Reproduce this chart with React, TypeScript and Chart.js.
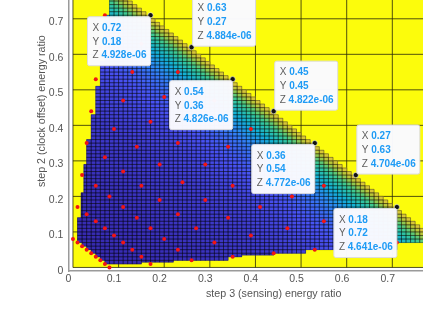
import React, { useEffect, useRef } from "react";
import { Chart, registerables } from "chart.js";

Chart.register(...registerables);

const xTicks = [0, 0.1, 0.2, 0.3, 0.4, 0.5, 0.6, 0.7];
const yTicks = [0, 0.1, 0.2, 0.3, 0.4, 0.5, 0.6, 0.7];
const xTitle = "step 3 (sensing) energy ratio";
const yTitle = "step 2 (clock offset) energy ratio";

// Sampled design points
const redX = [0.09, 0.01, 0.02, 0.03, 0.04, 0.05, 0.06, 0.07, 0.08, 0.1, 0.12, 0.08, 0.06, 0.04, 0.02, 0.14, 0.16, 0.18,
  0.03, 0.06, 0.09, 0.12, 0.15, 0.18, 0.21, 0.24, 0.27, 0.08, 0.12, 0.16, 0.2, 0.24, 0.28, 0.32, 0.36, 0.04,
  0.05, 0.1, 0.15, 0.2, 0.25, 0.3, 0.35, 0.4, 0.45, 0.06, 0.12, 0.18, 0.24, 0.3, 0.36, 0.42, 0.48, 0.54,
  0.07, 0.14, 0.21, 0.28, 0.35, 0.42, 0.49, 0.56, 0.63, 0.08, 0.16, 0.24, 0.32, 0.4, 0.48, 0.56, 0.64, 0.72];
const redY = [0.01, 0.09, 0.08, 0.07, 0.06, 0.05, 0.04, 0.03, 0.02, 0.1, 0.08, 0.12, 0.14, 0.16, 0.18, 0.06, 0.04, 0.02,
  0.27, 0.24, 0.21, 0.18, 0.15, 0.12, 0.09, 0.06, 0.03, 0.32, 0.28, 0.24, 0.2, 0.16, 0.12, 0.08, 0.04, 0.36,
  0.45, 0.4, 0.35, 0.3, 0.25, 0.2, 0.15, 0.1, 0.05, 0.54, 0.48, 0.42, 0.36, 0.3, 0.24, 0.18, 0.12, 0.06,
  0.63, 0.56, 0.49, 0.42, 0.35, 0.28, 0.21, 0.14, 0.07, 0.72, 0.64, 0.56, 0.48, 0.4, 0.32, 0.24, 0.16, 0.08];

// Data tips
const tipPointX = [0.18, 0.27, 0.36, 0.45, 0.54, 0.63, 0.72];
const tipPointY = [0.72, 0.63, 0.54, 0.45, 0.36, 0.27, 0.18];
const tipLabelX = ["0.72", "0.63", "0.54", "0.45", "0.36", "0.27", "0.18"];
const tipLabelY = ["0.18", "0.27", "0.36", "0.45", "0.54", "0.63", "0.72"];
const tipLabelZ = ["4.928e-06", "4.884e-06", "4.826e-06", "4.822e-06", "4.772e-06", "4.704e-06", "4.641e-06"];

// Outline of the feasible surface
const leftFromY = [0.72, 0.59, 0.52, 0.44, 0.37, 0.3, 0.22, 0.15, 0.08, 0.07, 0.06, 0.05, 0.04, 0.03, 0.02];
const leftEdgeX = [0.09, 0.08, 0.07, 0.06, 0.05, 0.04, 0.034, 0.028, 0.02, 0.03, 0.04, 0.05, 0.06, 0.07, 0.08];
const bottomUntilX = [0.155, 0.227, 0.35, 0.375, 0.45, 0.52, 0.72, 0.9];
const bottomEdgeY = [0.02, 0.025, 0.03, 0.04, 0.045, 0.05, 0.06, 0.08];
const diagonalLimit = 90;

// Surface height (as a colormap position) read along x + y
const sumLevels = [0.1, 0.3, 0.5, 0.6, 0.66, 0.7, 0.74, 0.77, 0.8, 0.83, 0.86, 0.88, 0.9];
const zLevels = [0.0, 0.02, 0.06, 0.1, 0.14, 0.18, 0.24, 0.31, 0.4, 0.5, 0.62, 0.74, 0.84];
const parula = [[54, 42, 176], [72, 82, 244], [46, 135, 247], [18, 177, 214], [55, 200, 151], [171, 199, 57], [254, 195, 56], [249, 251, 21]];

function lookupZ(sum: number) {
  for (let k = 1; k < sumLevels.length; k++) {
    if (sum <= sumLevels[k]) {
      const t = (sum - sumLevels[k - 1]) / (sumLevels[k] - sumLevels[k - 1]);
      return zLevels[k - 1] + Math.max(0, t) * (zLevels[k] - zLevels[k - 1]);
    }
  }
  return zLevels[zLevels.length - 1];
}
function colorFor(z: number) {
  const p = Math.min(0.9999, z) * (parula.length - 1);
  const i = Math.floor(p);
  const t = p - i;
  const c = parula[i].map((v, n) => Math.round(v + t * (parula[i + 1][n] - v)));
  return `rgb(${c[0]},${c[1]},${c[2]})`;
}

function buildCells() {
  const cells: any[] = [];
  for (let j = 1; j < diagonalLimit; j++) {
    const y = j / 100;
    const li = leftFromY.findIndex((v) => y >= v - 1e-9);
    if (li < 0) continue;
    const left = leftEdgeX[li];
    for (let i = 1; i + j + 2 <= diagonalLimit; i++) {
      const x = i / 100;
      if (x + 0.01 <= left + 1e-9) continue;
      const bi = bottomUntilX.findIndex((v) => x < v - 1e-9);
      const bottom = bi < 0 ? bottomEdgeY[bottomEdgeY.length - 1] : bottomEdgeY[bi];
      if (y + 0.01 <= bottom + 1e-9) continue;
      cells.push({ x, y, z: lookupZ(x + y + 0.01), l: Math.max(x, left), b: Math.max(y, bottom) });
    }
  }
  return cells;
}

const surfacePlugin = {
  id: "surface",
  beforeDatasetsDraw(chart: any) {
    const { ctx, scales, chartArea } = chart;
    const sx = scales.x;
    const sy = scales.y;
    const X = (v: number) => sx.getPixelForValue(v);
    const Y = (v: number) => sy.getPixelForValue(v);
    ctx.save();
    ctx.beginPath();
    ctx.rect(chartArea.left, chartArea.top, chartArea.right - chartArea.left, chartArea.bottom - chartArea.top);
    ctx.clip();
    ctx.fillStyle = "#fcfc0c";
    ctx.fillRect(X(0.01), chartArea.top, chartArea.right - X(0.01), Y(0.01) - chartArea.top);
    ctx.strokeStyle = "rgba(40,40,10,0.8)";
    ctx.lineWidth = 1;
    for (let k = 0; k <= 9; k++) {
      const v = 0.01 + k / 10;
      ctx.beginPath();
      ctx.moveTo(X(v), chartArea.top);
      ctx.lineTo(X(v), Y(0.01));
      ctx.moveTo(X(0.01), Y(v));
      ctx.lineTo(chartArea.right, Y(v));
      ctx.stroke();
    }
    const cells = chart.data.datasets[0].data;
    for (const c of cells) {
      const l = X(c.l), r = X(c.x + 0.01), t = Y(c.y + 0.01), b = Y(c.b);
      ctx.fillStyle = colorFor(c.z);
      ctx.fillRect(l - 0.3, t - 0.3, r - l + 0.6, b - t + 0.6);
    }
    ctx.strokeStyle = "rgba(0,0,0,0.42)";
    ctx.lineWidth = 0.8;
    ctx.beginPath();
    for (const c of cells) {
      const l = X(c.l), r = X(c.x + 0.01), t = Y(c.y + 0.01), b = Y(c.b);
      ctx.moveTo(l, b);
      ctx.lineTo(l, t);
      ctx.lineTo(r, t);
      ctx.moveTo(r, t);
      ctx.lineTo(r, b);
      ctx.moveTo(l, b);
      ctx.lineTo(r, b);
    }
    ctx.stroke();
    ctx.restore();
  },
};

const tipsPlugin = {
  id: "tips",
  afterDatasetsDraw(chart: any) {
    const { ctx, scales } = chart;
    const w = 63, h = 49, radius = 2;
    ctx.save();
    ctx.textBaseline = "middle";
    ctx.textAlign = "left";
    tipPointX.forEach((px, i) => {
      const ax = scales.x.getPixelForValue(px);
      const ay = scales.y.getPixelForValue(tipPointY[i]);
      const bx = i % 2 === 0 ? ax - w : ax + 1;
      const by = i % 2 === 0 ? ay + 1.5 : ay - h - 1;
      ctx.beginPath();
      ctx.roundRect(bx, by, w, h, radius);
      ctx.fillStyle = "rgba(250,250,255,0.98)";
      ctx.fill();
      ctx.strokeStyle = "#dcdce0";
      ctx.lineWidth = 1;
      ctx.stroke();
      const rows = [["X", tipLabelX[i]], ["Y", tipLabelY[i]], ["Z", tipLabelZ[i]]];
      rows.forEach((row, n) => {
        const ty = by + 11.5 + n * 13.6;
        ctx.font = "10px 'Liberation Sans'";
        ctx.fillStyle = "#5e5e5e";
        ctx.fillText(row[0], bx + 5, ty);
        const lw = ctx.measureText(row[0] + " ").width;
        ctx.font = "bold 10px 'Liberation Sans'";
        ctx.fillStyle = "#1e9bf5";
        ctx.fillText(row[1], bx + 5 + lw, ty);
      });
    });
    ctx.restore();
  },
};

export default function App() {
  const ref = useRef<HTMLCanvasElement | null>(null);
  useEffect(() => {
    document.body.style.margin = "0";
    const chart = new Chart(ref.current as HTMLCanvasElement, {
      type: "scatter",
      data: {
        datasets: [
          { label: "surface", data: buildCells(), pointRadius: 0, pointHoverRadius: 0, showLine: false },
          {
            label: "samples",
            data: redX.map((x, i) => ({ x, y: redY[i] })),
            pointRadius: 2,
            pointBackgroundColor: "#f01414",
            pointBorderWidth: 0,
            showLine: false,
          },
          {
            label: "tips",
            data: tipPointX.map((x, i) => ({ x, y: tipPointY[i] })),
            pointRadius: 2.6,
            pointBackgroundColor: "#111111",
            pointBorderColor: "rgba(255,255,255,0.55)",
            pointBorderWidth: 1,
            showLine: false,
          },
        ],
      },
      options: {
        responsive: false,
        animation: false,
        layout: { padding: 0 },
        plugins: { legend: { display: false }, tooltip: { enabled: false }, title: { display: false } },
        scales: {
          x: {
            type: "linear",
            min: 0,
            max: 0.9,
            afterBuildTicks: (s: any) => { s.ticks = xTicks.map((value) => ({ value })); },
            afterFit: (s: any) => { s.height = 44; },
            ticks: {
              color: "#555555",
              font: { family: "'Liberation Sans'", size: 10.5 },
              padding: 2,
              maxRotation: 0,
              autoSkip: false,
              callback: (v: any) => String(v),
            },
            grid: { drawOnChartArea: false, drawTicks: false },
            border: { color: "#9a9a9a", width: 1.5 },
            title: { display: true, text: xTitle, color: "#555555", font: { family: "'Liberation Sans'", size: 10.7 }, padding: { top: 2, bottom: 15 } },
          },
          y: {
            type: "linear",
            min: 0,
            max: 0.9,
            afterBuildTicks: (s: any) => { s.ticks = yTicks.map((value) => ({ value })); },
            afterFit: (s: any) => { s.width = 68.4; },
            ticks: {
              color: "#555555",
              font: { family: "'Liberation Sans'", size: 10.5 },
              padding: 5,
              autoSkip: false,
              callback: (v: any) => String(v),
            },
            grid: { drawOnChartArea: false, drawTicks: false },
            border: { color: "#9a9a9a", width: 1.5 },
            title: { display: true, text: yTitle, color: "#555555", font: { family: "'Liberation Sans'", size: 10.7 }, padding: { top: 36, bottom: 4 } },
          },
        },
      },
      plugins: [surfacePlugin, tipsPlugin],
    } as any);
    return () => chart.destroy();
  }, []);
  return (
    <div style={{ width: 423, height: 313, overflow: "hidden", position: "relative" }}>
      <canvas ref={ref} width={484} height={375} style={{ position: "absolute", left: 0, top: -60, width: 484, height: 375, filter: "blur(0.3px)" }} />
    </div>
  );
}
